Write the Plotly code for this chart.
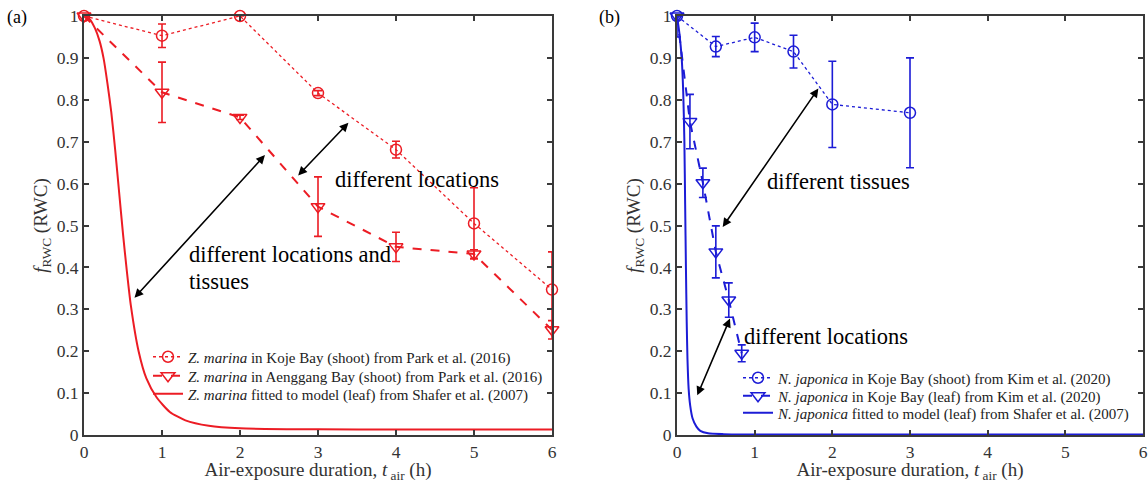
import plotly.graph_objects as go

# ---------------- data: panel (a) Zostera marina ----------------
a_koje_t = [0, 1, 2, 3, 4, 5, 6]
a_koje_f = [1.0, 0.953, 1.0, 0.816, 0.681, 0.505, 0.347]
a_koje_e = [0.0, 0.028, 0.0, 0.006, 0.02, 0.085, 0.09]

a_aeng_t = [0, 1, 2, 3, 4, 5, 6]
a_aeng_f = [1.0, 0.818, 0.758, 0.545, 0.449, 0.432, 0.251]
a_aeng_e = [0.0, 0.072, 0.005, 0.071, 0.035, 0.01, 0.022]

a_model_t = [0, 0.07, 0.14, 0.2, 0.25, 0.3, 0.35, 0.4, 0.45, 0.5, 0.55, 0.6,
             0.7, 0.8, 0.93, 1.1, 1.3, 1.6, 2.0, 3.0, 4.0, 6.0]
a_model_f = [1.0, 0.993, 0.971, 0.94, 0.9, 0.84, 0.77, 0.68, 0.58, 0.48, 0.39, 0.31,
             0.2, 0.135, 0.09, 0.055, 0.035, 0.022, 0.016, 0.0135, 0.013, 0.013]

# ---------------- data: panel (b) Nanozostera japonica ----------------
b_shoot_t = [0, 0.5, 1.0, 1.5, 2.0, 3.0]
b_shoot_f = [1.0, 0.927, 0.949, 0.915, 0.789, 0.769]
b_shoot_e = [0.0, 0.024, 0.034, 0.039, 0.103, 0.131]

b_leaf_t = [0, 1/6, 2/6, 3/6, 4/6, 5/6]
b_leaf_f = [1.0, 0.748, 0.602, 0.437, 0.322, 0.195]
b_leaf_e_up = [0.0, 0.065, 0.035, 0.062, 0.041, 0.02]
b_leaf_e_dn = [0.05, 0.065, 0.035, 0.062, 0.041, 0.02]

b_model_t = [0, 0.03, 0.06, 0.08, 0.095, 0.105, 0.115, 0.125, 0.135, 0.15, 0.17,
             0.2, 0.25, 0.3, 0.4, 0.6, 1.0, 6.0]
b_model_f = [1.0, 0.96, 0.9, 0.82, 0.7, 0.55, 0.4, 0.27, 0.18, 0.11, 0.07,
             0.04, 0.02, 0.01, 0.004, 0.002, 0.001, 0.001]

x_ticks = [0, 1, 2, 3, 4, 5, 6]
y_ticks = [0, 0.1, 0.2, 0.3, 0.4, 0.5, 0.6, 0.7, 0.8, 0.9, 1.0]
y_tick_text = ["0", "0.1", "0.2", "0.3", "0.4", "0.5", "0.6", "0.7", "0.8", "0.9", "1"]

RED = "#ec1c24"
BLUE = "#1c1cd6"
FONT = "Liberation Serif"
AX = "#3a3a3a"

fig = go.Figure()

def err(e, col, em=None):
    d = dict(type="data", array=e, visible=True, color=col, thickness=1.6, width=4)
    if em is not None:
        d["arrayminus"] = em
        d["symmetric"] = False
    return d

# panel (a)
fig.add_trace(go.Scatter(x=a_koje_t, y=a_koje_f, error_y=err(a_koje_e, RED),
    mode="lines+markers", line=dict(color=RED, width=1.3, dash="dot"), cliponaxis=False,
    marker=dict(symbol="circle-open", size=11, color=RED, line=dict(width=1.5)),
    name="<i>Z. marina</i> in Koje Bay (shoot) from Park et al. (2016)",
    xaxis="x", yaxis="y", legend="legend", showlegend=True))
fig.add_trace(go.Scatter(x=a_aeng_t, y=a_aeng_f, error_y=err(a_aeng_e, RED),
    mode="lines+markers", line=dict(color=RED, width=2, dash="dash"), cliponaxis=False,
    marker=dict(symbol="triangle-down-open", size=12, color=RED, line=dict(width=1.5)),
    name="<i>Z. marina</i> in Aenggang Bay (shoot) from Park et al. (2016)",
    xaxis="x", yaxis="y", legend="legend2", showlegend=True))
fig.add_trace(go.Scatter(x=a_model_t, y=a_model_f, mode="lines",
    line=dict(color=RED, width=2, shape="spline", smoothing=0.6),
    name="<i>Z. marina</i> fitted to model (leaf) from Shafer et al. (2007)",
    xaxis="x", yaxis="y", legend="legend3", showlegend=True))

# panel (b)
fig.add_trace(go.Scatter(x=b_shoot_t, y=b_shoot_f, error_y=err(b_shoot_e, BLUE),
    mode="lines+markers", line=dict(color=BLUE, width=1.3, dash="dot"), cliponaxis=False,
    marker=dict(symbol="circle-open", size=11, color=BLUE, line=dict(width=1.5)),
    name="<i>N. japonica</i> in Koje Bay (shoot) from Kim et al. (2020)",
    xaxis="x2", yaxis="y2", legend="legend4", showlegend=True))
fig.add_trace(go.Scatter(x=b_leaf_t, y=b_leaf_f, error_y=err(b_leaf_e_up, BLUE, b_leaf_e_dn),
    mode="lines+markers", line=dict(color=BLUE, width=2, dash="dash"), cliponaxis=False,
    marker=dict(symbol="triangle-down-open", size=12, color=BLUE, line=dict(width=1.5)),
    name="<i>N. japonica</i> in Koje Bay (leaf) from Kim et al. (2020)",
    xaxis="x2", yaxis="y2", legend="legend5", showlegend=True))
fig.add_trace(go.Scatter(x=b_model_t, y=b_model_f, mode="lines",
    line=dict(color=BLUE, width=2, shape="spline", smoothing=0.6),
    name="<i>N. japonica</i> fitted to model (leaf) from Shafer et al. (2007)",
    xaxis="x2", yaxis="y2", legend="legend6", showlegend=True))

W, H = 1148, 483
def px_x(p):
    return p / W
def px_y(p):
    return 1 - p / H

axis_common = dict(showline=True, linecolor=AX, linewidth=2, mirror="ticks",
                   ticks="inside", ticklen=5, tickwidth=1.5, tickcolor=AX,
                   showgrid=False, zeroline=False, automargin=False,
                   tickfont=dict(family=FONT, size=17.5, color="#333333"))

xtitle = dict(text="Air-exposure duration, <i>t</i><sub> air</sub> (h)",
              font=dict(family=FONT, size=19, color="#333333"), standoff=5)
ytitle = dict(text="<i>f</i><sub>RWC</sub> (RWC)",
              font=dict(family=FONT, size=19, color="#333333"), standoff=4)

def leg(xp, yp):
    return dict(x=px_x(xp), y=px_y(yp), xanchor="left", yanchor="middle",
                bgcolor="rgba(0,0,0,0)", itemwidth=30, tracegroupgap=0, visible=True,
                font=dict(family=FONT, size=15, color="#222222"))

fig.update_layout(
    template="none", showlegend=True,
    width=W, height=H, margin=dict(l=0, r=0, t=0, b=0, autoexpand=False),
    paper_bgcolor="white", plot_bgcolor="white",
    xaxis=dict(domain=[px_x(84), px_x(552)], range=[0, 6], tickvals=x_ticks,
               anchor="y", title=xtitle, **axis_common),
    yaxis=dict(domain=[px_y(435), px_y(16)], range=[0, 1], tickvals=y_ticks,
               ticktext=y_tick_text, anchor="x", title=ytitle, **axis_common),
    xaxis2=dict(domain=[px_x(677), px_x(1143)], range=[0, 6], tickvals=x_ticks,
                anchor="y2", title=xtitle, **axis_common),
    yaxis2=dict(domain=[px_y(435), px_y(16)], range=[0, 1], tickvals=y_ticks,
                ticktext=y_tick_text, anchor="x2", title=ytitle, **axis_common),
    legend=leg(148, 357),
    legend2=leg(148, 376),
    legend3=leg(148, 394),
    legend4=leg(738, 378),
    legend5=leg(738, 396),
    legend6=leg(738, 413),
)

anns = []
# panel labels
anns.append(dict(text="(a)", x=px_x(17), y=px_y(17), xref="paper", yref="paper",
                 xanchor="center", yanchor="middle",
                 showarrow=False, font=dict(family=FONT, size=18, color="black")))
anns.append(dict(text="(b)", x=px_x(609), y=px_y(17), xref="paper", yref="paper",
                 xanchor="center", yanchor="middle",
                 showarrow=False, font=dict(family=FONT, size=18, color="black")))

def arrow(xr, yr, x0, y0, x1, y1):
    return dict(x=x1, y=y1, ax=x0, ay=y0, xref=xr, yref=yr, axref=xr, ayref=yr,
                showarrow=True, arrowside="end+start", arrowhead=2, startarrowhead=2,
                arrowsize=1.1, startarrowsize=1.1, arrowwidth=1.6, arrowcolor="black", text="")

def label(xr, yr, x, y, t):
    return dict(x=x, y=y, xref=xr, yref=yr, text=t, showarrow=False, xanchor="left",
                yanchor="middle", align="left",
                font=dict(family=FONT, size=22.5, color="black"))

anns.append(arrow("x", "y", 2.727, 0.616, 3.39, 0.745))
anns.append(label("x", "y", 3.19, 0.609, "different locations"))
anns.append(arrow("x", "y", 0.63, 0.324, 2.32, 0.668))
anns.append(label("x", "y", 1.317, 0.430, "different locations and"))
anns.append(label("x", "y", 1.317, 0.366, "tissues"))

anns.append(arrow("x2", "y2", 0.575, 0.493, 1.82, 0.827))
anns.append(label("x2", "y2", 1.133, 0.605, "different tissues"))
anns.append(arrow("x2", "y2", 0.253, 0.091, 0.682, 0.278))
anns.append(label("x2", "y2", 0.833, 0.235, "different locations"))

fig.update_layout(annotations=anns)
fig.write_html("out.html")
